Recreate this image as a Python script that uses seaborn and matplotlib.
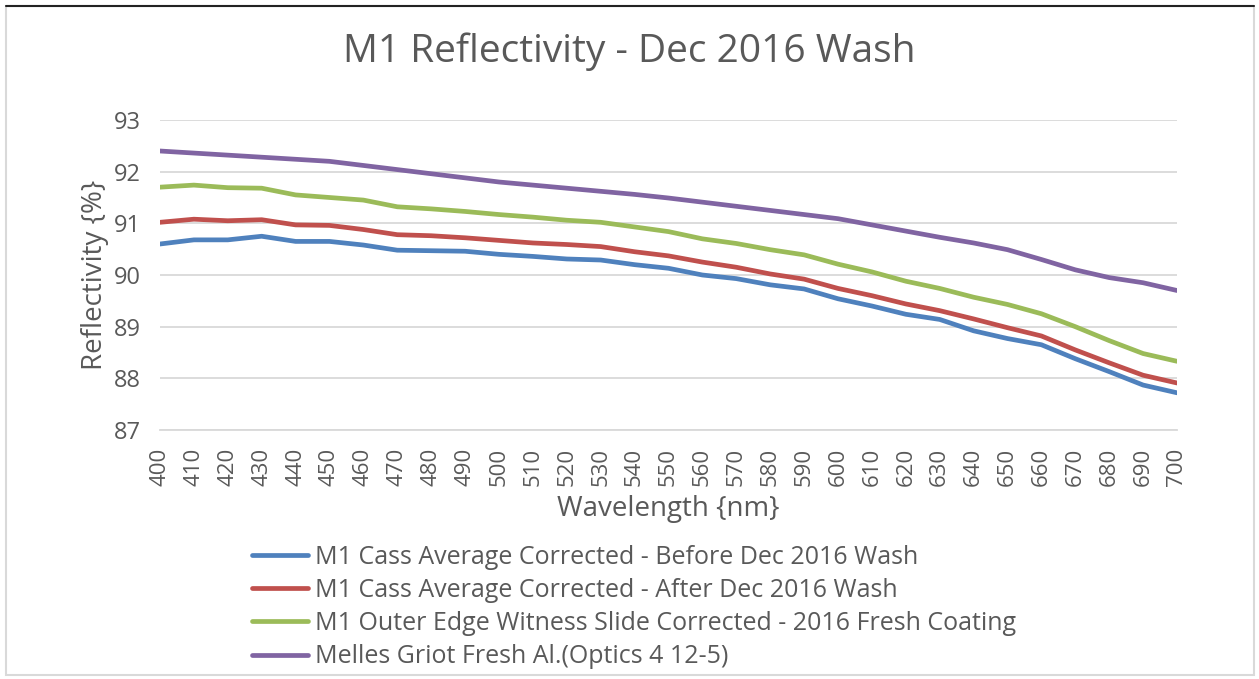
import numpy as np
import pandas as pd
import matplotlib
matplotlib.use("Agg")
import matplotlib.pyplot as plt
import seaborn as sns
from matplotlib.patches import Rectangle
from matplotlib.ticker import MultipleLocator

wavelength = list(range(400, 701, 10))

before_wash = [90.60, 90.68, 90.68, 90.75, 90.65, 90.65, 90.58, 90.48, 90.47, 90.46,
               90.40, 90.36, 90.31, 90.29, 90.20, 90.13, 90.00, 89.93, 89.81, 89.73,
               89.54, 89.40, 89.24, 89.14, 88.92, 88.77, 88.65, 88.38, 88.13, 87.87, 87.72]
after_wash = [91.02, 91.08, 91.05, 91.07, 90.97, 90.96, 90.88, 90.78, 90.76, 90.72,
              90.67, 90.62, 90.59, 90.55, 90.45, 90.37, 90.25, 90.15, 90.02, 89.92,
              89.74, 89.60, 89.44, 89.31, 89.15, 88.98, 88.82, 88.55, 88.30, 88.06, 87.91]
witness_slide = [91.70, 91.74, 91.69, 91.68, 91.55, 91.50, 91.45, 91.32, 91.28, 91.23,
                 91.17, 91.12, 91.06, 91.02, 90.93, 90.84, 90.70, 90.61, 90.49, 90.39,
                 90.21, 90.06, 89.88, 89.74, 89.57, 89.43, 89.25, 89.00, 88.73, 88.48, 88.33]
melles_griot = [92.40, 92.36, 92.32, 92.28, 92.24, 92.20, 92.12, 92.04, 91.96, 91.88,
                91.80, 91.74, 91.68, 91.62, 91.56, 91.49, 91.41, 91.33, 91.25, 91.17,
                91.09, 90.97, 90.85, 90.73, 90.62, 90.49, 90.30, 90.10, 89.95, 89.85, 89.70]

series_names = [
    "M1 Cass Average Corrected - Before Dec 2016 Wash",
    "M1 Cass Average Corrected - After Dec 2016 Wash",
    "M1 Outer Edge Witness Slide Corrected - 2016 Fresh Coating",
    "Melles Griot Fresh Al.(Optics 4 12-5)",
]
colors = ["#4F81BD", "#C0504D", "#9BBB59", "#8064A2"]

frames = []
for name, vals in zip(series_names, [before_wash, after_wash, witness_slide, melles_griot]):
    frames.append(pd.DataFrame({"Wavelength": wavelength, "Reflectivity": vals, "Series": name}))
df = pd.concat(frames, ignore_index=True)

sns.set_theme(style="white")
plt.rcParams["font.family"] = ["Open Sans", "DejaVu Sans"]
text_color = "#595959"
grid_color = "#D9D9D9"

fig = plt.figure(figsize=(12.59, 6.79), dpi=100)
ax = fig.add_axes([160 / 1259, 1 - 430 / 679, 1017 / 1259, 310 / 679])

sns.lineplot(data=df, x="Wavelength", y="Reflectivity", hue="Series",
             palette=colors, linewidth=3.4, ax=ax, legend=False,
             solid_capstyle="round")

ax.set_xlim(400, 700)
ax.set_ylim(87, 93)
ax.set_xticks(wavelength)
ax.set_xticklabels([str(w) for w in wavelength], rotation=90)
ax.xaxis.set_minor_locator(MultipleLocator(20))
ax.tick_params(axis="x", which="major", length=0, pad=13, labelsize=16, labelcolor=text_color)
ax.tick_params(axis="x", which="minor", length=8, width=1.2, color=grid_color, direction="out")
ax.tick_params(axis="y", length=0, pad=14, labelsize=17, labelcolor=text_color)

ax.yaxis.grid(True, color=grid_color, linewidth=1.3)
ax.set_axisbelow(True)
for side in ["top", "right", "left"]:
    ax.spines[side].set_visible(False)
ax.spines["bottom"].set_color(grid_color)
ax.spines["bottom"].set_linewidth(1.3)

ax.set_xlabel("Wavelength {nm}", fontsize=20, color=text_color, labelpad=6)
ax.set_ylabel("Reflectivity {%}", fontsize=20, color=text_color, labelpad=3)

fig.text(0.5, 1 - 52 / 679, "M1 Reflectivity - Dec 2016 Wash", ha="center", va="center",
         fontsize=28, color=text_color)

handles = [plt.Line2D([], [], color=c, linewidth=3.4, solid_capstyle="round") for c in colors]
fig.legend(handles, series_names, loc="upper left", bbox_to_anchor=(229 / 1259, 1 - 522 / 679),
           frameon=False, fontsize=18, handlelength=2.25, handletextpad=0.3,
           labelspacing=0.33, labelcolor=text_color)

# outer chart border
fig.patches.append(Rectangle((6 / 1259, 4 / 679), 1248 / 1259, 669 / 679, transform=fig.transFigure,
                             fill=False, edgecolor="#D9D9D9", linewidth=1.5))
fig.add_artist(plt.Line2D([6 / 1259, 1254 / 1259], [1 - 6 / 679, 1 - 6 / 679],
                          transform=fig.transFigure, color="#222222", linewidth=1.5))

fig.savefig("out.png", dpi=100)
